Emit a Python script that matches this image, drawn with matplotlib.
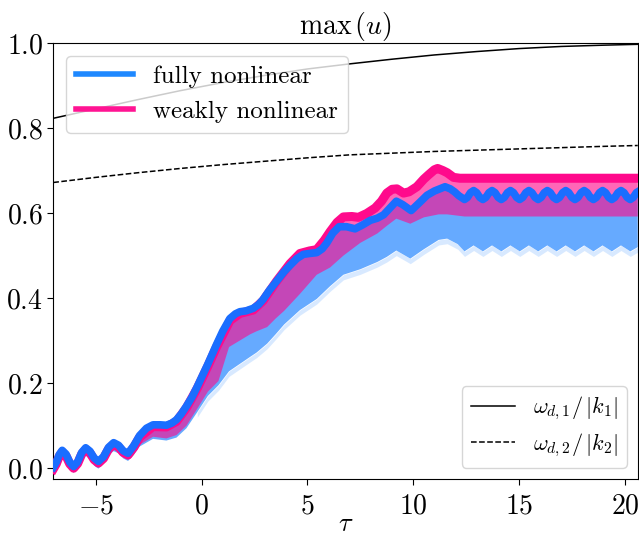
import numpy as np
import matplotlib
matplotlib.use('Agg')
import matplotlib.pyplot as plt
from matplotlib.lines import Line2D

plt.rcParams['font.family'] = 'serif'
plt.rcParams['font.serif'] = ['cmr10']
plt.rcParams['mathtext.fontset'] = 'cm'
plt.rcParams['axes.formatter.use_mathtext'] = True

# ---- fully nonlinear: upper envelope ----
tau_fn = [-7.0, -6.86, -6.72, -6.58, -6.40, -6.22, -6.04, -5.85, -5.66, -5.47, -5.27, -5.07,
          -4.87, -4.63, -4.39, -4.15, -3.92, -3.70, -3.47, -3.2, -2.92, -2.6, -2.29, -1.95,
          -1.66, -1.4, -1.18, -0.95, -0.71, -0.45,
          -0.2, 0.0, 0.3, 0.7, 1.0, 1.34, 1.6, 1.81, 2.1, 2.44, 2.7, 2.91, 3.2, 3.55, 3.9,
          4.18, 4.5, 4.81, 5.1, 5.44, 5.7, 5.92, 6.2, 6.5, 6.85, 7.25, 7.6, 7.97, 8.3, 8.6,
          8.9, 9.2, 9.5, 9.9, 10.3, 10.65, 11.0, 11.5, 11.75, 11.95, 12.15, 12.42, 12.56, 12.70,
          12.85, 12.995, 13.14, 13.285, 13.43, 13.575,
          13.72, 13.865, 14.01, 14.155, 14.30, 14.445,
          14.59, 14.735, 14.88, 15.025, 15.17, 15.315,
          15.46, 15.605, 15.75, 15.895, 16.04, 16.185,
          16.33, 16.475, 16.62, 16.765, 16.91, 17.055,
          17.20, 17.345, 17.49, 17.635, 17.78, 17.925,
          18.07, 18.215, 18.36, 18.505, 18.65, 18.795,
          18.94, 19.085, 19.23, 19.375, 19.52, 19.665,
          19.81, 19.955, 20.10, 20.245, 20.39, 20.535, 20.6]
u_fn_hi = [0.002, 0.014, 0.032, 0.042, 0.033, 0.014, 0.004, 0.015, 0.037, 0.048, 0.040, 0.024,
           0.016, 0.027, 0.049, 0.060, 0.054, 0.041, 0.035, 0.053, 0.077, 0.094, 0.102, 0.102,
           0.101, 0.106, 0.114, 0.128, 0.146, 0.167,
           0.192, 0.213, 0.245, 0.290, 0.322, 0.352, 0.363, 0.368, 0.370, 0.376, 0.385, 0.397,
           0.418, 0.440, 0.462, 0.477, 0.493, 0.503, 0.505, 0.507, 0.516, 0.530, 0.553, 0.568,
           0.568, 0.563, 0.572, 0.583, 0.588, 0.596, 0.612, 0.628, 0.620, 0.606, 0.625, 0.642,
           0.652, 0.662, 0.657, 0.650, 0.641, 0.632, 0.637, 0.648,
           0.653, 0.648, 0.637, 0.632, 0.637, 0.648,
           0.653, 0.648, 0.637, 0.632, 0.637, 0.648,
           0.653, 0.648, 0.637, 0.632, 0.637, 0.648,
           0.653, 0.648, 0.637, 0.632, 0.637, 0.648,
           0.653, 0.648, 0.637, 0.632, 0.637, 0.648,
           0.653, 0.648, 0.637, 0.632, 0.637, 0.648,
           0.653, 0.648, 0.637, 0.632, 0.637, 0.648,
           0.653, 0.648, 0.637, 0.632, 0.637, 0.648,
           0.653, 0.648, 0.637, 0.632, 0.637, 0.648, 0.650]

# ---- weakly nonlinear: upper envelope ----
tau_wn = [-7.0, -6.86, -6.72, -6.58, -6.40, -6.22, -6.04, -5.85, -5.66, -5.47, -5.27, -5.07,
          -4.87, -4.63, -4.39, -4.15, -3.92, -3.70, -3.47, -3.2, -2.92, -2.29, -1.66, -1.18,
          -0.71, -0.2, 0.3, 0.7, 1.34, 1.81, 2.44, 2.91, 3.55, 4.18, 4.65, 5.1, 5.44, 5.8, 6.07,
          6.4, 6.7, 7.1, 7.41, 7.8, 8.2, 8.5, 8.75, 9.0, 9.23, 9.54, 9.8, 10.17, 10.5, 10.72,
          11.0, 11.15, 11.4, 11.6, 11.9, 12.2, 20.6]
u_wn_hi = [-0.002, 0.010, 0.028, 0.038, 0.029, 0.010, 0.000, 0.011, 0.033, 0.044, 0.036, 0.020,
           0.012, 0.023, 0.045, 0.056, 0.050, 0.037, 0.031, 0.049, 0.073, 0.098, 0.097, 0.110,
           0.142, 0.188, 0.240, 0.284, 0.347, 0.364, 0.372, 0.394, 0.440, 0.481, 0.505, 0.511,
           0.514, 0.536, 0.556, 0.578, 0.591, 0.592, 0.590, 0.599, 0.612, 0.628, 0.647, 0.656,
           0.657, 0.647, 0.650, 0.662, 0.680, 0.690, 0.702, 0.705, 0.700, 0.695, 0.684, 0.682,
           0.682]

# ---- lower envelopes (shared tau grid) ----
tau_lo = [-7.0, -6.86, -6.72, -6.58, -6.40, -6.22, -6.04, -5.85, -5.66, -5.47, -5.27, -5.07,
          -4.87, -4.63, -4.39, -4.15, -3.92, -3.70, -3.47, -3.2, -2.92, -2.29, -1.66, -1.18,
          -0.71, -0.2, 0.3, 0.8, 1.3, 1.8, 2.3, 2.6, 3.1, 3.5, 3.9, 4.65, 5.44, 6.07, 6.7, 7.5,
          8.3, 8.75, 9.2, 9.86, 10.5, 11.2, 11.6, 12.1, 12.42, 12.85, 13.29, 13.72, 14.16, 14.59,
          15.03, 15.46, 15.9, 16.33, 16.77, 17.2, 17.64, 18.07, 18.51, 18.94, 19.38, 19.81,
          20.25, 20.6]
u_wn_lo = [-0.010, 0.001, 0.018, 0.028, 0.020, 0.001, -0.008, 0.003, 0.022, 0.032, 0.025, 0.009,
           0.002, 0.013, 0.033, 0.043, 0.038, 0.026, 0.020, 0.034, 0.055, 0.074, 0.070, 0.078,
           0.100, 0.140, 0.180, 0.205, 0.285, 0.300, 0.315, 0.322, 0.332, 0.352, 0.370, 0.410,
           0.455, 0.472, 0.500, 0.530, 0.552, 0.570, 0.587, 0.575, 0.590, 0.597, 0.597, 0.594,
           0.592, 0.592, 0.592, 0.592, 0.592, 0.592, 0.592, 0.592, 0.592, 0.592, 0.592, 0.592,
           0.592, 0.592, 0.592, 0.592, 0.592, 0.592, 0.592, 0.592]
u_fn_lo = [-0.013, -0.002, 0.015, 0.025, 0.017, -0.002, -0.011, 0.000, 0.019, 0.029, 0.022, 0.006,
           -0.001, 0.010, 0.030, 0.040, 0.035, 0.023, 0.017, 0.031, 0.051, 0.069, 0.065, 0.072,
           0.094, 0.132, 0.170, 0.195, 0.228, 0.245, 0.262, 0.272, 0.293, 0.315, 0.338, 0.372,
           0.398, 0.428, 0.455, 0.468, 0.485, 0.497, 0.512, 0.493, 0.515, 0.537, 0.540, 0.527,
           0.510, 0.524, 0.510, 0.524, 0.510, 0.524, 0.510, 0.524, 0.510, 0.524, 0.510, 0.524,
           0.510, 0.524, 0.510, 0.524, 0.510, 0.524, 0.510, 0.520]

# ---- dispersion reference lines ----
tau_w = [-7, -5, -3, -1, 1, 3, 5, 7, 9, 11, 13, 15, 17, 19, 20.6]
w1_k1 = [0.823, 0.845, 0.867, 0.888, 0.907, 0.924, 0.939, 0.951, 0.962, 0.972, 0.980, 0.987,
         0.992, 0.995, 0.997]
w2_k2 = [0.672, 0.684, 0.695, 0.705, 0.714, 0.722, 0.730, 0.737, 0.741, 0.745, 0.748, 0.751,
         0.754, 0.757, 0.759]

labels_main = ['fully nonlinear', 'weakly nonlinear']
labels_w = [r'$\omega_{d,1}/\,|k_1|$', r'$\omega_{d,2}/\,|k_2|$']

tau_fn = np.array(tau_fn); u_fn_hi = np.array(u_fn_hi)
tau_wn = np.array(tau_wn); u_wn_hi = np.array(u_wn_hi)
tau_lo = np.array(tau_lo); u_wn_lo = np.array(u_wn_lo); u_fn_lo = np.array(u_fn_lo)

fig = plt.figure(figsize=(6.39, 5.38), dpi=100)
ax = fig.add_axes([0.0834, 0.110, 0.9146, 0.810])

c_fill_blue = '#66AAFF'
c_pink = '#FF0A8C'
c_blue_line = '#1A6EFF'

# fully nonlinear oscillation band
ax.fill(np.concatenate([tau_fn, tau_lo[::-1]]), np.concatenate([u_fn_hi, u_fn_lo[::-1]]),
        color=c_fill_blue, lw=0, zorder=1)
m = tau_lo >= -0.5
ax.fill_between(tau_lo[m], u_fn_lo[m] - 0.012, u_fn_lo[m], color=c_fill_blue, alpha=0.25,
                lw=0, zorder=1)
# weakly nonlinear oscillation band
ax.fill(np.concatenate([tau_wn, tau_lo[::-1]]), np.concatenate([u_wn_hi, u_wn_lo[::-1]]),
        color=c_pink, alpha=0.62, lw=0, zorder=2)
ax.plot(tau_wn, u_wn_hi, color=c_pink, lw=6.5, solid_joinstyle='round', zorder=3)
ax.plot(tau_fn, u_fn_hi, color=c_blue_line, lw=5.5, solid_joinstyle='round', zorder=4)

l1, = ax.plot(tau_w, w1_k1, color='k', lw=1.1, ls='-', zorder=5)
l2, = ax.plot(tau_w, w2_k2, color='k', lw=1.1, ls='--', zorder=5)

ax.set_xlim(-7.0, 20.6)
ax.set_ylim(-0.025, 1.0)
ax.set_xticks([-5, 0, 5, 10, 15, 20])
ax.set_yticks([0.0, 0.2, 0.4, 0.6, 0.8, 1.0])
ax.tick_params(labelsize=20, length=4)
ax.tick_params(axis='x', pad=6)
ax.set_title(r'$\max\,(u)$', fontsize=20)
ax.set_xlabel(r'$\tau$', fontsize=19, labelpad=-5)

h_main = [Line2D([], [], color='#1E88FF', lw=4), Line2D([], [], color='#FF1493', lw=4)]
leg1 = ax.legend(h_main, labels_main, loc='upper left', fontsize=18, handlelength=2.3)
leg1.set_zorder(10)
ax.add_artist(leg1)
leg2 = ax.legend([l1, l2], labels_w, loc='lower right', fontsize=16, labelspacing=0.4)
leg2.set_zorder(10)

fig.savefig('out.png', dpi=100)
